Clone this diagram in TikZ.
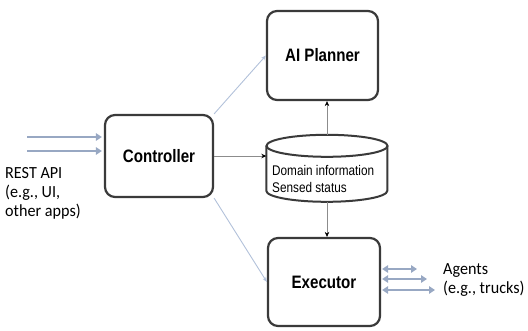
\documentclass[tikz,border=0pt]{standalone}
\usepackage{fontspec}
\newfontfamily\boxfont{Liberation Sans}[FakeStretch=0.84]
\newfontfamily\notefont{Carlito}[FakeStretch=0.95]
\usetikzlibrary{arrows.meta}
\definecolor{frame}{HTML}{3A3A3A}
\definecolor{pipe}{HTML}{98A8C3}
\definecolor{link}{HTML}{B2C1DA}
\definecolor{wire}{HTML}{8C8C8C}
\tikzset{
  module/.style={draw=frame, line width=2.2pt, rounded corners=10pt, fill=white,
    inner sep=0pt, font=\boxfont\bfseries\fontsize{18}{20}\selectfont},
  conn/.style={draw=wire, line width=0.7pt, -{Stealth[length=5pt,width=4.5pt,color=black]}},
  linkline/.style={draw=link, line width=0.9pt, -{Stealth[length=5pt,width=4pt]}},
  pipeline/.style={draw=pipe, line width=2.6pt, -{Triangle[length=6pt,width=7.5pt]}},
  twoway/.style={draw=pipe, line width=2.6pt, {Triangle[length=6pt,width=7.5pt]}-{Triangle[length=6pt,width=7.5pt]}},
  note/.style={inner sep=0pt, align=left, font=\notefont\fontsize{17}{19}\selectfont},
}
\begin{document}
\begin{tikzpicture}[x=1pt,y=-1pt]
\useasboundingbox (0,0) rectangle (528,330);

% main components
\node[module, minimum width=108pt, minimum height=82pt] (ctrl) at (159,156) {Controller};
\node[module, minimum width=111pt, minimum height=89pt] (plan) at (322.5,55.5) {AI Planner};
\node[module, minimum width=112pt, minimum height=88pt] (exec) at (324,282) {Executor};

% shared data store (cylinder): body, then the top face
\node[minimum width=121pt, minimum height=67pt, inner sep=0pt] (db) at (327,168.5) {};
\draw[frame, line width=2pt, fill=white]
  (db.north west) ++(0,11) -- ++(0,45)
  arc[start angle=180, end angle=360, x radius=60.5pt, y radius=11pt] -- ++(0,-45);
\draw[frame, line width=2pt, fill=white]
  (db.north) ++(0,11) ellipse[x radius=60.5pt, y radius=11pt];
\node[anchor=north west, inner sep=0pt, align=left,
  font=\boxfont\fontsize{14}{17}\selectfont] (dbtext) at (272,165)
  {Domain information\\Sensed status};

% internal connectors
\draw[conn] (ctrl.east) -- (ctrl.east -| db.west);
\draw[conn] (db.north) -- (db.north |- plan.south);
\draw[conn] (db.south) -- (db.south |- exec.north);
\draw[linkline] (ctrl.north east) -- (plan.west);
\draw[linkline] (ctrl.south east) -- (exec.west);

% external interfaces
\coordinate (in1) at (27,137);
\coordinate (in2) at (27,151);
\draw[pipeline, shorten >=2pt] (in1) -- (in1 -| ctrl.west);
\draw[pipeline, shorten >=2pt] (in2) -- (in2 -| ctrl.west);

\coordinate (ag1) at (417,269);
\coordinate (ag2) at (427,279);
\coordinate (ag3) at (435,290);
\draw[twoway, shorten <=1pt] (ag1 -| exec.east) -- (ag1);
\draw[twoway, shorten <=1pt] (ag2 -| exec.east) -- (ag2);
\draw[twoway, shorten <=1pt] (ag3 -| exec.east) -- (ag3);

\node[note, anchor=north west] (rest) at (5,167) {REST API\\(e.g., UI,\\other apps)};
\node[note, anchor=north west] (agents) at (443,263) {Agents\\(e.g., trucks)};
\end{tikzpicture}
\end{document}
